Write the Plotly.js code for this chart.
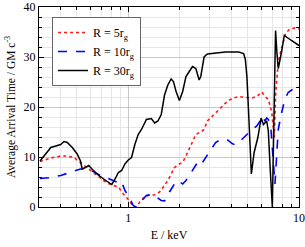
<!DOCTYPE html>
<html>
<head>
<meta charset="utf-8">
<script src="https://cdn.plot.ly/plotly-3.0.1.min.js"></script>
<style>html,body{margin:0;padding:0;background:#fff;}#chart{width:305px;height:247px;}</style>
</head>
<body>
<div id="chart"></div>
<script>
// Energy (keV) and average arrival time (GM c^-3)
const energy5 = [0.304,0.352,0.402,0.439,0.480,0.525,0.574,0.627,0.685,0.749,0.819,0.875,0.936,1.0,1.069,1.118,1.168,1.249,1.335,1.427,1.526,1.631,1.743,1.864,1.992,2.083,2.177,2.327,2.487,2.659,2.780,2.906,3.177,3.472,3.795,4.057,4.434,4.846,5.297,5.663,6.053,6.327,6.614,6.915,7.165,7.300,7.558,7.898,8.333,8.832,9.439,10];
const time5 = [9.1,9.8,10.2,10.2,9.9,8.9,7.9,6.9,5.9,4.8,4.3,4.0,2.6,1.5,0.1,0,1.0,2.1,2.4,2.4,3.0,4.3,5.9,7.9,8.6,8.9,10.2,12.5,14.5,15.0,15.5,17.2,18.5,19.8,21.1,21.7,22.1,21.9,21.8,22.1,23.0,22.1,21.5,19.1,13.9,22.5,29.0,31.7,34.7,35.6,35.8,35.6];

const energy10 = [0.304,0.352,0.402,0.459,0.525,0.561,0.587,0.627,0.685,0.749,0.819,0.856,0.875,0.915,0.956,1.022,1.069,1.103,1.168,1.277,1.365,1.459,1.560,1.631,1.743,1.864,1.948,2.083,2.177,2.327,2.487,2.601,2.719,2.842,3.038,3.248,3.472,3.795,4.057,4.242,4.534,4.846,5.297,5.663,5.920,6.053,6.188,6.327,6.469,6.614,6.853,7.070,7.230,7.392,7.558,7.898,8.260,8.637,9.232,10];
const time10 = [5.7,5.9,6.3,6.9,7.6,7.7,7.3,7.1,6.3,5.8,5.3,5.0,5.3,5.0,3.3,1.7,0.3,0,0.8,2.3,2.5,2.0,1.3,1.2,3.0,4.6,5.3,4.6,5.3,6.9,8.6,9.4,8.9,9.9,11.6,12.9,13.5,13.5,12.7,12.4,13.2,14.2,15.5,16.2,17.2,18.2,17.8,17.2,17.8,17.5,15.5,10.0,4.6,10.0,15.5,18.8,21.5,22.9,23.6,23.9];

const energy30 = [0.304,0.322,0.352,0.376,0.402,0.420,0.439,0.470,0.502,0.525,0.537,0.561,0.587,0.613,0.656,0.717,0.766,0.801,0.837,0.875,0.915,0.956,1.0,1.045,1.093,1.143,1.195,1.277,1.365,1.427,1.492,1.560,1.631,1.705,1.782,1.839,1.906,1.992,2.083,2.177,2.276,2.379,2.487,2.601,2.659,2.780,2.906,3.248,3.711,4.434,4.740,4.850,4.955,5.066,5.180,5.260,5.460,5.740,6.000,6.190,6.470,6.610,6.790,6.980,7.100,7.290,7.420,7.560,7.900,8.200,9.030,10];
const time30 = [9.2,10.2,11.9,12.2,12.5,13.1,12.9,11.9,10.6,9.2,7.6,7.9,8.3,7.6,6.6,5.6,5.0,4.5,5.6,6.9,7.3,8.6,9.4,9.9,12.5,14.5,15.5,17.5,17.7,16.8,17.2,18.5,22.4,24.4,25.6,25.1,23.1,21.3,23.1,26.1,27.1,28.1,27.7,25.4,26.1,30.0,30.6,30.8,31.0,31.0,30.7,29.5,26.0,19.0,11.0,6.6,10.9,13.9,17.8,16.5,17.2,15.2,7.3,0,14.0,35.3,31.0,27.7,31.0,34.3,33.3,32.3];

const names = ["R = 5r<sub>g</sub>", "R = 10r<sub>g</sub>", "R = 30r<sub>g</sub>"];
const xTicks = [1, 10];
const xTickText = ["1", "10"];

const traces = [
  {x: energy5, y: time5, name: names[0], mode: "lines", line: {color: "#ff1a1a", width: 1.6, dash: "dot"}},
  {x: energy10, y: time10, name: names[1], mode: "lines", line: {color: "#0000ff", width: 1.6, dash: "dash"}},
  {x: energy30, y: time30, name: names[2], mode: "lines", line: {color: "#000000", width: 1.5}}
];

const xMinor = [0.4,0.5,0.6,0.7,0.8,0.9,2,3,4,5,6,7,8,9];
const fam = "Times New Roman, Liberation Serif, DejaVu Serif, serif";
const font = {family: fam, size: 12, color: "#000"};

const layout = {
  width: 305, height: 247,
  margin: {l: 39, r: 6, t: 7, b: 40},
  paper_bgcolor: "#fff", plot_bgcolor: "#fff",
  font: font,
  showlegend: true,
  legend: {x: 0.05, y: 0.95, xanchor: "left", yanchor: "top", bgcolor: "#fff", bordercolor: "#666", borderwidth: 1, font: {family: fam, size: 12, color: "#000"}, tracegroupgap: 0},
  xaxis: {
    type: "log", range: [Math.log10(0.3), 1],
    tickmode: "array", tickvals: xTicks, ticktext: xTickText,
    ticks: "inside", ticklen: 5, tickcolor: "#000", ticklabeloverflow: "allow",
    showline: true, linecolor: "#000", linewidth: 1, mirror: "ticks",
    showgrid: true, gridcolor: "#c8c8c8", gridwidth: 1, zeroline: false,
    minor: {tickvals: xMinor, ticks: "inside", ticklen: 3, tickcolor: "#000", showgrid: true, gridcolor: "#e6e6e6", gridwidth: 1},
    title: {text: "E / keV", font: {family: fam, size: 12, color: "#000"}, standoff: 6},
    tickfont: {family: fam, size: 12, color: "#000"}
  },
  yaxis: {
    range: [0, 40], tickmode: "linear", tick0: 0, dtick: 10,
    ticks: "inside", ticklen: 5, tickcolor: "#000", ticklabeloverflow: "allow",
    showline: true, linecolor: "#000", linewidth: 1, mirror: "ticks",
    showgrid: true, gridcolor: "#c8c8c8", gridwidth: 1, zeroline: false,
    minor: {dtick: 2, ticks: "inside", ticklen: 3, tickcolor: "#000", showgrid: true, gridcolor: "#e6e6e6", gridwidth: 1},
    title: {text: "Average Arrival Time / GM c<sup>-3</sup>", font: {family: fam, size: 11.5, color: "#000"}, standoff: 5},
    tickfont: {family: fam, size: 12, color: "#000"}
  }
};

Plotly.newPlot("chart", traces, layout, {displayModeBar: false, staticPlot: true});
</script>
</body>
</html>
